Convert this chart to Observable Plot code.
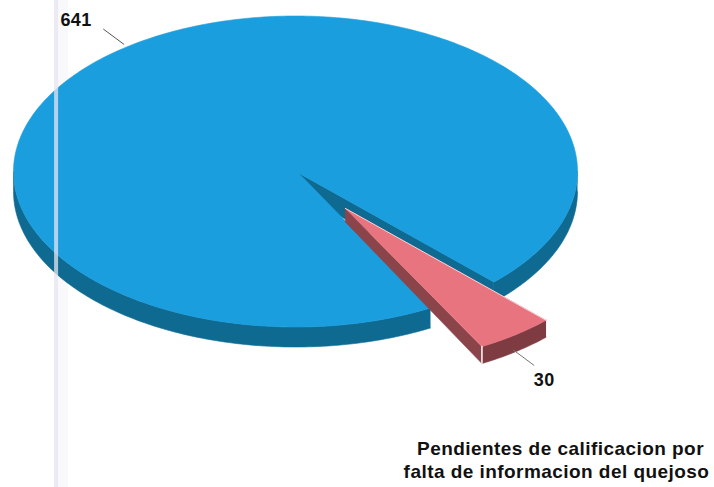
<!DOCTYPE html>
<html>
<head>
<meta charset="utf-8">
<script src="https://cdn.jsdelivr.net/npm/d3@7"></script>
<script src="https://cdn.jsdelivr.net/npm/@observablehq/plot@0.6"></script>
<style>html,body{margin:0;padding:0;background:#fff}svg{display:block}</style>
</head>
<body>
<div id="chart"></div>
<script>
const categories = ["Otros", "Pendientes de calificacion por falta de informacion del quejoso"];
const values = [641, 30];
const captionLines = ["Pendientes de calificacion por", "falta de informacion del quejoso"];

const W = 714, H = 487;
const cx = 295, cy = 171, rx = 282, ry = 155.5;
const depth = 20 / ry, redDepth = 17 / ry, redApexDepth = 13.5 / ry;
const explode = 0.296, redScale = 1.012;
const rad = Math.PI / 180;
const start = 61.4 * rad;

const arcs = d3.pie().sort(null).startAngle(start).endAngle(start + 2 * Math.PI)(values);
const blue = arcs[0], red = arcs[1];
const mid = a => (a.startAngle + a.endAngle) / 2;

const at = (t, r = 1, ox = 0, oy = 0, d = 0) => ({x: ox + r * Math.cos(t), y: oy + r * Math.sin(t) + d});
const sweep = (a, b, r = 1, ox = 0, oy = 0, d = 0) => {
  const n = Math.max(2, Math.ceil(Math.abs(b - a) / rad));
  return d3.range(n + 1).map(i => at(a + (b - a) * i / n, r, ox, oy, d));
};
const poly = (pts, color, w = 0.6) => Plot.line(pts, {x: "x", y: "y", fill: color, stroke: color, strokeWidth: w});

const blueDark = "#0f6a92", blueTop = "#1b9ede";
const redTop = "#e8747f", redSide = "#7e3b42", redEdge = "#8c444b";

// Large slice: front wall either side of the gap, wall inside the gap, top face
const cutEnd = blue.endAngle - 2 * Math.PI;
const apex = {x: 3 / rx, y: 1.5 / ry};
const apexLow = {x: apex.x, y: apex.y + depth};
const bluePieces = [
  poly([...sweep(0, cutEnd), ...sweep(cutEnd, 0, 1, 0, 0, depth)], blueDark),
  poly([...sweep(blue.startAngle, Math.PI), ...sweep(Math.PI, blue.startAngle, 1, 0, 0, depth)], blueDark),
  poly([apex, at(cutEnd), at(cutEnd, 1, 0, 0, depth), apexLow], blueDark),
  poly([apex, ...sweep(blue.startAngle, blue.endAngle), apex], blueTop)
];

// Small slice, pulled out along its middle angle
const ox = explode * Math.cos(mid(red)), oy = explode * Math.sin(mid(red));
const redO = {x: ox, y: oy}, redOLow = {x: ox, y: oy + redApexDepth};
const redA = at(red.startAngle, redScale, ox, oy), redB = at(red.endAngle, redScale, ox, oy);
const redPieces = [
  poly([redO, redOLow, at(red.endAngle, redScale, ox, oy, redDepth), redB], redEdge),
  poly([...sweep(red.startAngle, red.endAngle, redScale, ox, oy), ...sweep(red.endAngle, red.startAngle, redScale, ox, oy, redDepth)], redSide),
  poly([redO, ...sweep(red.startAngle, red.endAngle, redScale, ox, oy), redO], redTop),
  Plot.line([redO, redA], {x: "x", y: "y", stroke: "#f7d3d6", strokeWidth: 1}),
  Plot.line([redB, at(red.endAngle, redScale, ox, oy, redDepth)], {x: "x", y: "y", stroke: "#f4f0f0", strokeWidth: 1.6})
];

// Data labels with leader lines along each slice's middle angle
const leaderBlue = [at(mid(blue), 1.02), at(mid(blue), 1.14)];
const leaderRed = [at(mid(red), 1.0, ox, oy, redDepth), at(mid(red), 1.12, ox, oy, redDepth)];
const labelBlue = [{...at(mid(blue), 1.25), text: String(values[0])}];
const labelRed = [{...at(mid(red), 1.2, ox, oy, redDepth), text: String(values[1])}];

const band = -0.849, bandFaint = -0.826;
const font = {fontFamily: "Liberation Sans", fontWeight: "bold", fontSize: 18, fill: "#111"};

const chart = Plot.plot({
  width: W, height: H, margin: 0,
  style: {letterSpacing: "0.45px", background: "#fff"},
  x: {domain: [-cx / rx, (W - cx) / rx], range: [0, W], axis: null},
  y: {domain: [-cy / ry, (H - cy) / ry], range: [0, H], axis: null},
  marks: [
    Plot.ruleX([bandFaint], {stroke: "#f9f9fc", strokeWidth: 11}),
    ...bluePieces,
    ...redPieces,
    Plot.ruleX([band], {stroke: "#e6e4ef", strokeWidth: 4, strokeOpacity: 0.75}),
    Plot.line(leaderBlue, {x: "x", y: "y", stroke: "#555", strokeWidth: 1}),
    Plot.line(leaderRed, {x: "x", y: "y", stroke: "#777", strokeWidth: 1}),
    Plot.text(labelBlue, {x: "x", y: "y", text: "text", dx: -9, dy: 5, ...font}),
    Plot.text(labelRed, {x: "x", y: "y", text: "text", dx: -3, dy: 5, ...font}),
    Plot.text([captionLines[0]], {text: d => d, frameAnchor: "bottom", dx: 203, dy: -33, textAnchor: "middle", ...font, fontSize: 19}),
    Plot.text([captionLines[1]], {text: d => d, frameAnchor: "bottom", dx: 199, dy: -10, textAnchor: "middle", ...font, fontSize: 19})
  ]
});
document.getElementById("chart").append(chart);
</script>
</body>
</html>
